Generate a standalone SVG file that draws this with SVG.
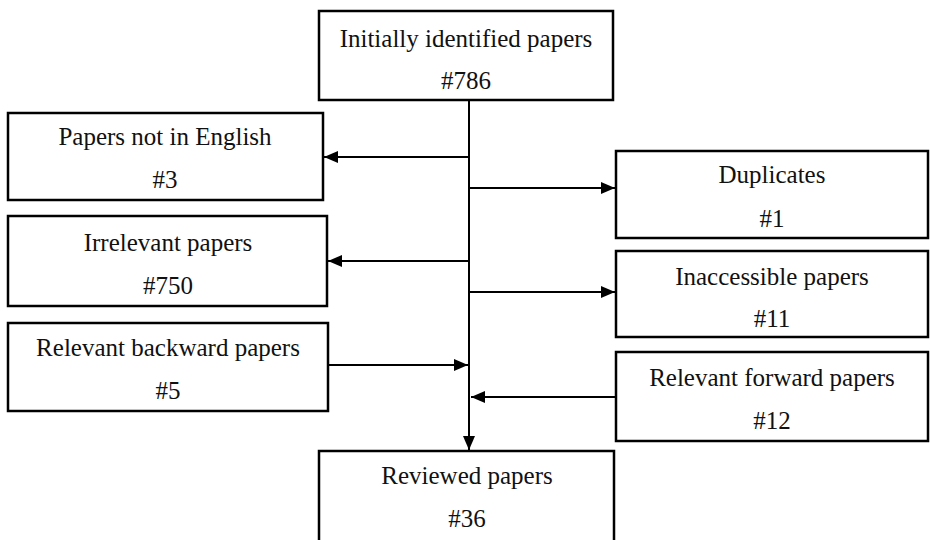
<svg xmlns="http://www.w3.org/2000/svg" width="930" height="540" viewBox="0 0 930 540">
<style>
.box{fill:#fff;stroke:#000;stroke-width:2.5}
.t{font-family:'Liberation Serif','Times New Roman',serif;font-size:25px;fill:#111;text-anchor:middle}
.c{stroke:#000;stroke-width:2;fill:none}
</style>
<defs>
<marker id="ah" viewBox="0 0 14 12" refX="14" refY="6" markerWidth="14" markerHeight="12" markerUnits="userSpaceOnUse" orient="auto">
<path d="M0,0 L14,6 L0,12 Z" fill="#000"/>
</marker>
</defs>
<rect width="930" height="540" fill="#fff"/>
<g id="connectors">
<line class="c" x1="469" y1="100" x2="469" y2="450" marker-end="url(#ah)"/>
<line class="c" x1="469" y1="157" x2="324" y2="157" marker-end="url(#ah)"/>
<line class="c" x1="469" y1="188" x2="615" y2="188" marker-end="url(#ah)"/>
<line class="c" x1="469" y1="261" x2="328" y2="261" marker-end="url(#ah)"/>
<line class="c" x1="469" y1="292" x2="615" y2="292" marker-end="url(#ah)"/>
<line class="c" x1="328" y1="365" x2="468" y2="365" marker-end="url(#ah)"/>
<line class="c" x1="616" y1="397" x2="471" y2="397" marker-end="url(#ah)"/>
</g>
<g id="initial">
<rect class="box" x="319" y="11" width="294" height="89"/>
<text class="t" x="466" y="47">Initially identified papers</text>
<text class="t" x="466" y="89">#786</text>
</g>
<g id="notEnglish">
<rect class="box" x="8" y="113" width="315" height="87"/>
<text class="t" x="165" y="145">Papers not in English</text>
<text class="t" x="165" y="188">#3</text>
</g>
<g id="duplicates">
<rect class="box" x="616" y="151" width="312" height="87"/>
<text class="t" x="772" y="183">Duplicates</text>
<text class="t" x="772" y="227">#1</text>
</g>
<g id="irrelevant">
<rect class="box" x="8" y="216" width="319" height="90"/>
<text class="t" x="168" y="251">Irrelevant papers</text>
<text class="t" x="168" y="294">#750</text>
</g>
<g id="inaccessible">
<rect class="box" x="616" y="251" width="312" height="86"/>
<text class="t" x="772" y="285">Inaccessible papers</text>
<text class="t" x="772" y="327">#11</text>
</g>
<g id="backward">
<rect class="box" x="8" y="323" width="320" height="88"/>
<text class="t" x="168" y="356">Relevant backward papers</text>
<text class="t" x="168" y="399">#5</text>
</g>
<g id="forward">
<rect class="box" x="616" y="352" width="312" height="89"/>
<text class="t" x="772" y="386">Relevant forward papers</text>
<text class="t" x="772" y="429">#12</text>
</g>
<g id="reviewed">
<rect class="box" x="319" y="451" width="295" height="100"/>
<text class="t" x="467" y="484">Reviewed papers</text>
<text class="t" x="467" y="527">#36</text>
</g>
</svg>
